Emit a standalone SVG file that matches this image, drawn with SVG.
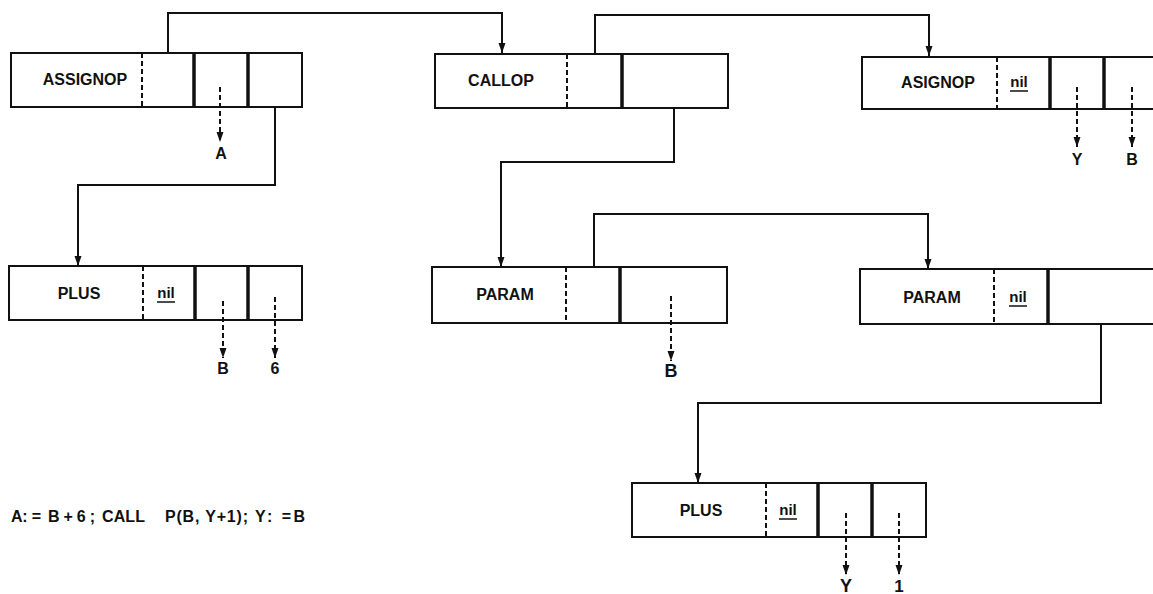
<svg xmlns="http://www.w3.org/2000/svg" width="1153" height="594" viewBox="0 0 1153 594">
<style>
  .box { fill: #fff; stroke: #111; stroke-width: 2; }
  .dash { stroke: #111; stroke-width: 2; stroke-dasharray: 5 3; fill: none; }
  .thick { stroke: #111; stroke-width: 3.5; }
  .lbl { font-family: "Liberation Sans", Arial, sans-serif; font-weight: bold; font-size: 16px; fill: #111; text-anchor: middle; }
  .nil { font-family: "Liberation Sans", Arial, sans-serif; font-weight: bold; font-size: 15px; fill: #111; text-anchor: middle; }
  .ul { stroke: #111; stroke-width: 1.5; }
  .conn { fill: none; stroke: #111; stroke-width: 2; }
  .ptr { fill: none; stroke: #111; stroke-width: 2; stroke-dasharray: 5 3; }
  .code { font-family: "Liberation Sans", Arial, sans-serif; font-weight: bold; font-size: 16px; fill: #111; }
</style>
<defs>
  <marker id="arr" markerUnits="userSpaceOnUse" markerWidth="10" markerHeight="10" refX="10" refY="5" orient="auto" viewBox="0 0 10 10">
    <path d="M0,1.5 L10,5 L0,8.5 Z" fill="#111"/>
  </marker>
</defs>

<g id="connectors">
  <path class="conn" d="M168,79 V13 H502 V53" marker-end="url(#arr)"/>
  <path class="conn" d="M275,107 V185 H78 V266" marker-end="url(#arr)"/>
  <path class="conn" d="M595,81 V15 H929 V56" marker-end="url(#arr)"/>
  <path class="conn" d="M674,81 V162 H501 V267" marker-end="url(#arr)"/>
  <path class="conn" d="M594,290 V214 H928 V269" marker-end="url(#arr)"/>
  <path class="conn" d="M1101,299 V403 H698 V483" marker-end="url(#arr)"/>
</g>

<g id="n_assignop1">
  <rect class="box" x="11" y="53" width="291" height="54"/>
  <line class="dash" x1="142" y1="53" x2="142" y2="107"/>
  <line class="thick" x1="194" y1="53" x2="194" y2="107"/>
  <line class="thick" x1="248" y1="53" x2="248" y2="107"/>
  <text class="lbl" x="85" y="85">ASSIGNOP</text>
  <path class="ptr" d="M220,87 V142" marker-end="url(#arr)"/>
  <text class="lbl" x="221" y="159">A</text>
</g>

<g id="n_callop">
  <rect class="box" x="435" y="54" width="293" height="54"/>
  <line class="dash" x1="567" y1="54" x2="567" y2="108"/>
  <line class="thick" x1="622" y1="54" x2="622" y2="108"/>
  <text class="lbl" x="501" y="86">CALLOP</text>
</g>

<g id="n_asignop2">
  <rect class="box" x="862" y="57" width="300" height="52"/>
  <line class="dash" x1="997" y1="57" x2="997" y2="109"/>
  <line class="thick" x1="1050" y1="57" x2="1050" y2="109"/>
  <line class="thick" x1="1104" y1="57" x2="1104" y2="109"/>
  <text class="lbl" x="938" y="88">ASIGNOP</text>
  <text class="nil" x="1019" y="87">nil</text>
  <line class="ul" x1="1010" y1="91" x2="1028" y2="91"/>
  <path class="ptr" d="M1077,87 V147" marker-end="url(#arr)"/>
  <text class="lbl" x="1077" y="165">Y</text>
  <path class="ptr" d="M1132,87 V147" marker-end="url(#arr)"/>
  <text class="lbl" x="1132" y="165">B</text>
</g>

<g id="n_plus1">
  <rect class="box" x="9" y="266" width="293" height="54"/>
  <line class="dash" x1="143" y1="266" x2="143" y2="320"/>
  <line class="thick" x1="195" y1="266" x2="195" y2="320"/>
  <line class="thick" x1="248" y1="266" x2="248" y2="320"/>
  <text class="lbl" x="79" y="299">PLUS</text>
  <text class="nil" x="166" y="298">nil</text>
  <line class="ul" x1="157" y1="302" x2="175" y2="302"/>
  <path class="ptr" d="M223,301 V358" marker-end="url(#arr)"/>
  <text class="lbl" x="223" y="374">B</text>
  <path class="ptr" d="M275,297 V358" marker-end="url(#arr)"/>
  <text class="lbl" x="275" y="374">6</text>
</g>

<g id="n_param1">
  <rect class="box" x="432" y="267" width="295" height="56"/>
  <line class="dash" x1="566" y1="267" x2="566" y2="323"/>
  <line class="thick" x1="620" y1="267" x2="620" y2="323"/>
  <text class="lbl" x="505" y="300">PARAM</text>
  <path class="ptr" d="M671,296 V361" marker-end="url(#arr)"/>
  <text class="lbl" x="671" y="377" style="font-size:18px">B</text>
</g>

<g id="n_param2">
  <rect class="box" x="860" y="269" width="300" height="55"/>
  <line class="dash" x1="994" y1="269" x2="994" y2="324"/>
  <line class="thick" x1="1048" y1="269" x2="1048" y2="324"/>
  <text class="lbl" x="932" y="303">PARAM</text>
  <text class="nil" x="1018" y="302">nil</text>
  <line class="ul" x1="1009" y1="306" x2="1027" y2="306"/>
</g>

<g id="n_plus2">
  <rect class="box" x="632" y="483" width="294" height="54"/>
  <line class="dash" x1="766" y1="483" x2="766" y2="537"/>
  <line class="thick" x1="818" y1="483" x2="818" y2="537"/>
  <line class="thick" x1="872" y1="483" x2="872" y2="537"/>
  <text class="lbl" x="701" y="516">PLUS</text>
  <text class="nil" x="788" y="515">nil</text>
  <line class="ul" x1="779" y1="519" x2="797" y2="519"/>
  <path class="ptr" d="M846,513 V575" marker-end="url(#arr)"/>
  <text class="lbl" x="846" y="592" style="font-size:18px">Y</text>
  <path class="ptr" d="M899,513 V575" marker-end="url(#arr)"/>
  <text class="lbl" x="899" y="592" style="font-size:17px">1</text>
</g>

<g id="code">
  <text class="code" x="11" y="522" textLength="30" lengthAdjust="spacing">A: =</text>
  <text class="code" x="48" y="522" textLength="47" lengthAdjust="spacing">B+6;</text>
  <text class="code" x="102" y="522" textLength="43" lengthAdjust="spacing">CALL</text>
  <text class="code" x="165" y="522" textLength="83" lengthAdjust="spacing">P(B, Y+1);</text>
  <text class="code" x="255" y="522" textLength="50" lengthAdjust="spacing">Y: =B</text>
</g>
</svg>
